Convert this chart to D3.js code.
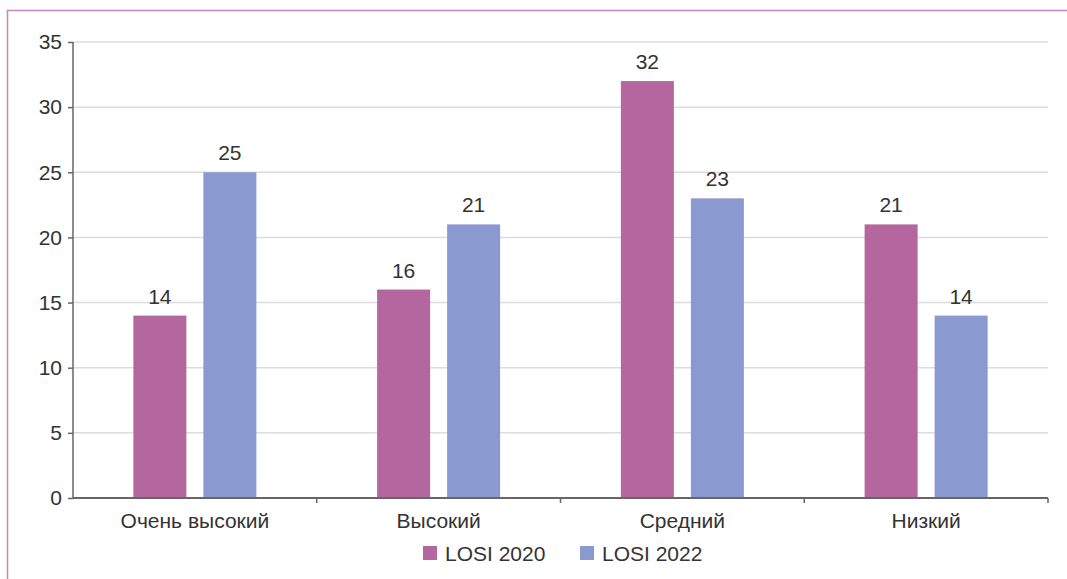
<!DOCTYPE html>
<html><head><meta charset="utf-8">
<script src="https://cdn.jsdelivr.net/npm/d3@7"></script>
<style>body{margin:0;background:#fff}svg{display:block}</style>
</head><body><svg id="c" width="1067" height="579"></svg>
<script>
const categories = ["Очень высокий", "Высокий", "Средний", "Низкий"];
const seriesNames = ["LOSI 2020", "LOSI 2022"];
const losi2020 = [14, 16, 32, 21];
const losi2022 = [25, 21, 23, 14];
const yTicks = [0, 5, 10, 15, 20, 25, 30, 35];
const colors = ["#b4669e", "#8a99cf"];

const svg = d3.select("#c");
const W = 1067, H = 579;
const m = {l: 73, r: 1048, t: 42, b: 498};
const font = "Liberation Sans, Arial, sans-serif";
const fs = 21;

// border
svg.append("path").attr("d", `M7.5,${H} L7.5,10.5 L${W},10.5`)
  .attr("fill", "none").attr("stroke", "#c984bb").attr("stroke-width", 1.5);

const x = d3.scaleBand().domain(categories).range([m.l, m.r]);
const bw = x.bandwidth();
const xs = d3.scaleBand().domain(seriesNames).range([bw / 2 - 61.5, bw / 2 + 61.5]).paddingInner(17 / 70);
const y = d3.scaleLinear().domain([0, 35]).range([m.b, m.t]);

// grid
svg.append("g").selectAll("line").data(yTicks.filter(d => d > 0)).join("line")
  .attr("x1", m.l).attr("x2", m.r).attr("y1", d => y(d)).attr("y2", d => y(d))
  .attr("stroke", "#dcdcdc").attr("stroke-width", 1.5);

const data = categories.map((c, i) => ({c, vals: [losi2020[i], losi2022[i]]}));
const g = svg.append("g");
data.forEach(d => {
  d.vals.forEach((v, j) => {
    const sx = x(d.c) + xs(seriesNames[j]);
    g.append("rect").attr("x", sx).attr("y", y(v)).attr("width", xs.bandwidth())
      .attr("height", y(0) - y(v)).attr("fill", colors[j]);
    g.append("text").attr("x", sx + xs.bandwidth() / 2).attr("y", y(v) - 12)
      .attr("text-anchor", "middle").attr("font-family", font).attr("font-size", fs)
      .attr("fill", "#333").text(v);
  });
});

// y axis
const ya = svg.append("g").attr("transform", `translate(${m.l},0)`)
  .call(d3.axisLeft(y).tickValues(yTicks).tickSize(5).tickPadding(6));
ya.selectAll("text").attr("font-family", font).attr("font-size", fs).attr("fill", "#333");
ya.selectAll("line,path").attr("stroke", "#666").attr("stroke-width", 1.5);
ya.select("path").attr("d", `M0,${m.t}V${m.b}`);

// x axis
const xa = svg.append("g").attr("transform", `translate(0,${m.b})`)
  .call(d3.axisBottom(x).tickSize(0).tickPadding(15));
xa.select("path").attr("d", `M${m.l},0H${m.r}`).attr("stroke", "#666").attr("stroke-width", 2);
xa.selectAll("text").attr("font-family", font).attr("font-size", fs).attr("fill", "#333");
svg.append("g").selectAll("line").data(d3.range(1, categories.length + 1)).join("line")
  .attr("x1", i => m.l + i * x.step()).attr("x2", i => m.l + i * x.step())
  .attr("y1", m.b).attr("y2", m.b + 5).attr("stroke", "#666").attr("stroke-width", 1.5);

// legend
const lg = svg.append("g");
const lx = [423, 580];
seriesNames.forEach((s, j) => {
  lg.append("rect").attr("x", lx[j]).attr("y", 546).attr("width", 14).attr("height", 14).attr("fill", colors[j]);
  lg.append("text").attr("x", lx[j] + 22).attr("y", 561).attr("font-family", font)
    .attr("font-size", fs).attr("fill", "#333").text(s);
});
</script></body></html>
